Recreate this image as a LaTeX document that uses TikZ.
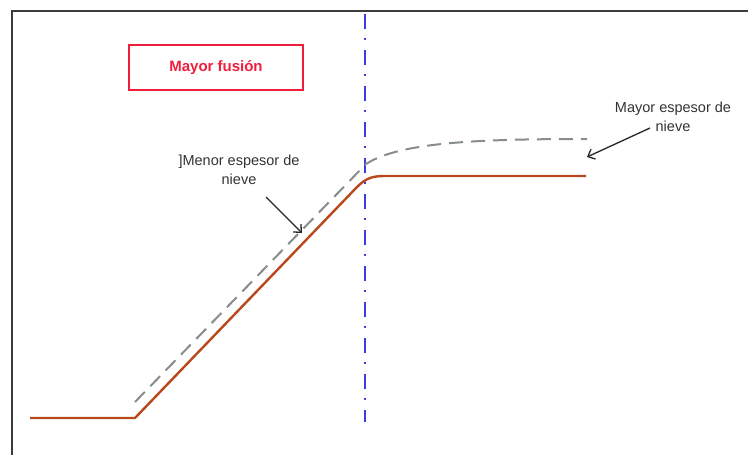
\documentclass[tikz,border=0pt]{standalone}
\usepackage{fontspec}
\setmainfont{Liberation Sans}
\usetikzlibrary{arrows.meta}
\definecolor{ground}{RGB}{185,72,28}
\definecolor{snow}{RGB}{135,140,140}
\definecolor{axisblue}{RGB}{60,60,225}
\definecolor{fusionred}{RGB}{240,30,60}
\definecolor{framegrey}{RGB}{60,60,60}
\tikzset{
  frameline/.style={draw=framegrey, line width=1.3pt},
  groundline/.style={draw=ground, line width=2.4pt},
  snowline/.style={draw=snow, line width=2pt, dash pattern=on 14pt off 8pt},
  axisline/.style={draw=axisblue, line width=1.5pt, dash pattern=on 15pt off 9pt on 2pt off 10pt},
  labeltext/.style={font=\fontsize{14.5}{19.5}\selectfont, text=black!80, align=center, inner sep=0pt},
  pointer/.style={draw=black!85, line width=1.3pt, -{Straight Barb[length=6pt,width=11pt]}},
  titlebox/.style={draw=fusionred, line width=1.3pt, minimum width=174pt, minimum height=45pt, inner sep=0pt,
    font=\fontsize{15}{17}\selectfont\bfseries, text=fusionred}
}
\begin{document}
\begin{tikzpicture}[x=1pt,y=-1pt]
\useasboundingbox[fill=white] (0,0) rectangle (748,455);
% frame
\coordinate (ftl) at (12,11);
\coordinate (ftr) at (748,11);
\coordinate (fbl) at (12,455);
\draw[frameline] (fbl) -- (ftl) -- (ftr);
% title box
\node[titlebox] (fusion) at (216,67.5) {Mayor fusión};
% vertical axis
\coordinate (ax1) at (365,14);
\coordinate (ax2) at (365,422);
\draw[axisline] (ax1) -- (ax2);
% ground line
\coordinate (g0) at (30,418);
\coordinate (g1) at (135,418);
\coordinate (g2) at (357,187);
\coordinate (g3) at (386,176);
\coordinate (g4) at (586,176);
\draw[groundline] (g0) -- (g1) -- (g2) .. controls (367,177) and (374,176) .. (g3) -- (g4);
% snow line
\coordinate (s0) at (135,402);
\coordinate (s1) at (366,164);
\coordinate (s2) at (587,139);
\draw[snowline] (s0) -- (s1) .. controls (400,142) and (480,139) .. (s2);
% labels
\node[labeltext] (menor) at (239,170) {]Menor espesor de\\nieve};
\coordinate (m1) at (266,197);
\coordinate (m2) at (302,233);
\draw[pointer] (m1) -- (m2);
\node[labeltext] (mayor) at (673,117) {Mayor espesor de\\nieve};
\coordinate (y1) at (650,128);
\coordinate (y2) at (587,157);
\draw[pointer] (y1) -- (y2);
\end{tikzpicture}
\end{document}
